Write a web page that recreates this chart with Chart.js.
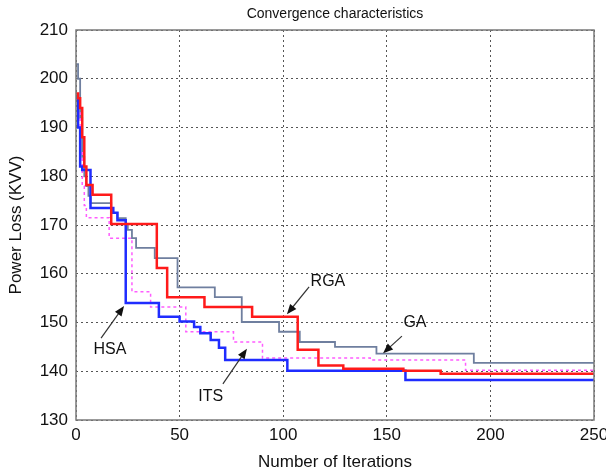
<!DOCTYPE html>
<html>
<head>
<meta charset="utf-8">
<title>Convergence characteristics</title>
<script src="https://cdn.jsdelivr.net/npm/chart.js@4.4.1/dist/chart.umd.min.js"></script>
<style>
html,body{margin:0;padding:0;background:#fff;}
#wrap{width:606px;height:473px;}
</style>
</head>
<body>
<div id="wrap"><canvas id="lossChart" width="606" height="473"></canvas></div>
<script>
/* =========================================
DATA (iteration where the best loss changes)
========================================= */

const chartTitle = 'Convergence characteristics';

const iterTicks = [0,50,100,150,200,250];
const lossTicks = [130,140,150,160,170,180,190,200,210];

const rgaIter = [0,1,2,3,4,5,8,17,39,44,62,85,107,117,129,158,176,250];
const rgaLoss = [197,196,194,188,182,178.2,176.2,170.2,161.2,155.2,153.2,151.2,144.4,141.2,140.5,140.1,139.5,139.5];

const hsaIter = [0,1,2,3,7,18,20,24,40,50,57,60,65,69,72,102,159,250];
const hsaLoss = [196,190,182,181.3,173.5,172.5,171,154,151.2,150.2,149.1,147.8,146.4,144.8,142.3,140.1,138.2,138.2];

const itsIter = [0,1,2,3,4,5,16,27,36,53,76,90,142,188,250];
const itsLoss = [196,193,185,178,174,171.5,167.3,156.3,153.2,148.1,146,142.7,142.3,140.2,140.2];

const gaIter = [0,1,2,3,4,5,6,7,17,20,24,25,27,29,38,49,67,80,98,108,125,145,192,250];
const gaLoss = [203,200,192,184,180,178,176,174.5,172.5,171.4,170,169,167.3,165.3,163.2,157.2,155.2,150.1,148.1,146,145,143.6,141.7,141.7];

/* =========================================
ARROW NOTES (label, text pos, arrow tail, arrow head) in data units
========================================= */

const notes = [
{ text:'HSA', at:[16.4,144.4], from:[12.1,146.8], to:[23.2,153.4] },
{ text:'ITS', at:[65,134.7], from:[70.9,137.4], to:[82.5,144.6] },
{ text:'RGA', at:[121.6,158.3], from:[112.5,157.3], to:[101.8,151.7] },
{ text:'GA', at:[163.6,149.9], from:[157.3,147.2], to:[148.2,143.7] }
];

function toPoints(iters, losses){
return iters.map((x,i)=>({ x:x, y:losses[i] }));
}

const FONT = "'Liberation Sans', Arial, sans-serif";

/* title over the plot, box round the plot, arrow notes */
const framePlugin = {
id:'frame',
afterDatasetsDraw(chart){
const ctx = chart.ctx;
const a = chart.chartArea;
const xs = chart.scales.x;
const ys = chart.scales.y;

ctx.save();
ctx.strokeStyle = '#7a7a7a';
ctx.lineWidth = 1.5;
ctx.strokeRect(a.left, a.top, a.right - a.left, a.bottom - a.top);

ctx.fillStyle = '#111';
ctx.font = '14px ' + FONT;
ctx.textAlign = 'center';
ctx.textBaseline = 'middle';
ctx.fillText(chartTitle, (a.left + a.right) / 2, a.top - 16);

notes.forEach((n)=>{
const x1 = xs.getPixelForValue(n.from[0]);
const y1 = ys.getPixelForValue(n.from[1]);
const x2 = xs.getPixelForValue(n.to[0]);
const y2 = ys.getPixelForValue(n.to[1]);
const ang = Math.atan2(y2 - y1, x2 - x1);
const len = 10;

ctx.strokeStyle = '#333';
ctx.lineWidth = 1.2;
ctx.beginPath();
ctx.moveTo(x1, y1);
ctx.lineTo(x2 - Math.cos(ang) * len * 0.8, y2 - Math.sin(ang) * len * 0.8);
ctx.stroke();

ctx.fillStyle = '#111';
ctx.beginPath();
ctx.moveTo(x2, y2);
ctx.lineTo(x2 - len * Math.cos(ang) + 4 * Math.sin(ang), y2 - len * Math.sin(ang) - 4 * Math.cos(ang));
ctx.lineTo(x2 - len * Math.cos(ang) - 4 * Math.sin(ang), y2 - len * Math.sin(ang) + 4 * Math.cos(ang));
ctx.closePath();
ctx.fill();

ctx.font = '16px ' + FONT;
ctx.fillText(n.text, xs.getPixelForValue(n.at[0]), ys.getPixelForValue(n.at[1]));
});

ctx.restore();
}
};

/* =========================================
CHART
========================================= */

new Chart(document.getElementById('lossChart'), {

type:'line',

data:{
datasets:[
{ label:'RGA', data:toPoints(rgaIter, rgaLoss), borderColor:'#ff1a1a', borderWidth:2.5 },
{ label:'HSA', data:toPoints(hsaIter, hsaLoss), borderColor:'#1f2cff', borderWidth:2.5 },
{ label:'ITS', data:toPoints(itsIter, itsLoss), borderColor:'#ff5cff', borderWidth:1.5, borderDash:[3,3] },
{ label:'GA', data:toPoints(gaIter, gaLoss), borderColor:'#6f7f9f', borderWidth:1.8 }
]
},

options:{
responsive:false,
animation:false,
devicePixelRatio:1,
layout:{ padding:{ left:0, right:12, top:30, bottom:0 } },
elements:{
point:{ radius:0 },
line:{ stepped:'before', tension:0, fill:false }
},
plugins:{
legend:{ display:false },
tooltip:{ enabled:false },
title:{ display:false }
},
scales:{
x:{
type:'linear',
min:0,
max:250,
afterBuildTicks(scale){ scale.ticks = iterTicks.map(v=>({ value:v })); },
afterFit(scale){ scale.height = 53; scale.paddingLeft = 0; scale.paddingRight = 0; },
ticks:{ color:'#111', font:{ family:FONT, size:17 }, padding:5, maxRotation:0 },
grid:{ color:'#555', lineWidth:1, drawTicks:false },
border:{ display:false, dash:[2,3] },
title:{ display:true, text:'Number of Iterations', color:'#111', font:{ family:FONT, size:17 }, padding:{ top:0, bottom:0 } }
},
y:{
type:'linear',
min:130,
max:210,
afterBuildTicks(scale){ scale.ticks = lossTicks.map(v=>({ value:v })); },
afterFit(scale){ scale.width = 76; scale.paddingTop = 0; scale.paddingBottom = 0; },
ticks:{ color:'#111', font:{ family:FONT, size:17 }, padding:8 },
grid:{ color:'#555', lineWidth:1, drawTicks:false },
border:{ display:false, dash:[2,3] },
title:{ display:true, text:'Power Loss (KVV)', color:'#111', font:{ family:FONT, size:17 }, padding:{ top:6, bottom:0 } }
}
}
},

plugins:[framePlugin]

});
</script>
</body>
</html>
